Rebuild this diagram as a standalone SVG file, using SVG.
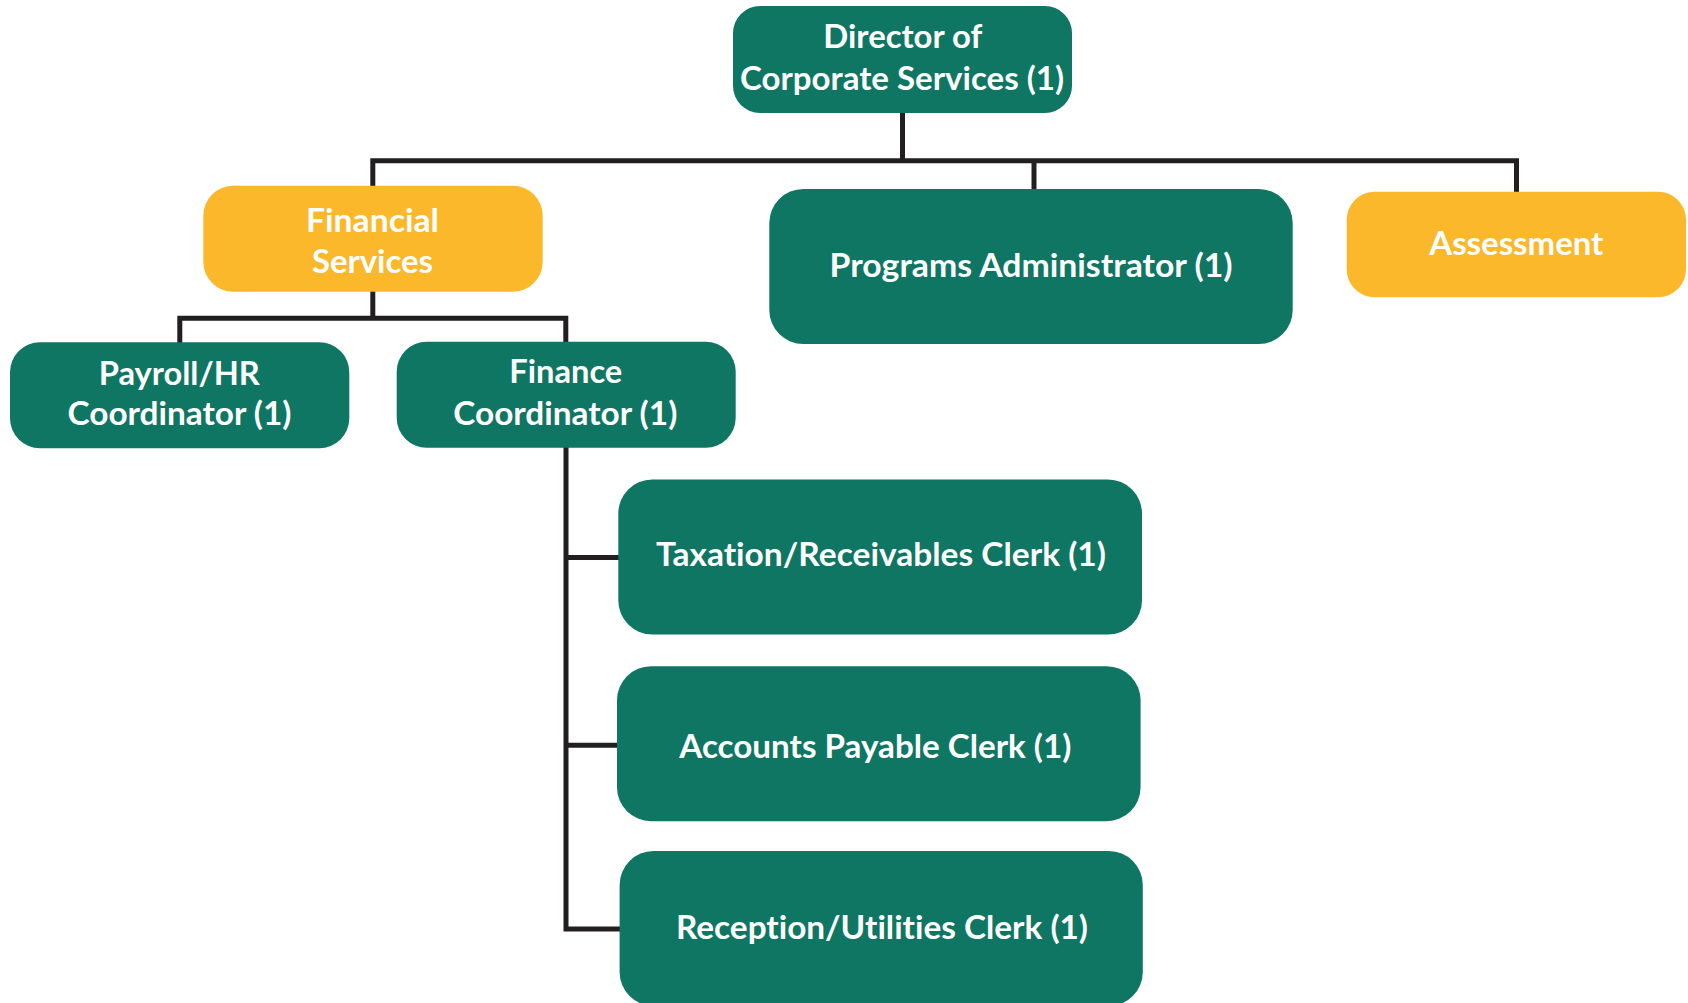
<svg xmlns="http://www.w3.org/2000/svg" width="1688" height="1003" viewBox="0 0 1688 1003">
  <style>
    .green { fill: #0e7663; }
    .yellow { fill: #fbb82b; }
    .label { fill: #ffffff; font-family: Lato, "Open Sans", "Liberation Sans", sans-serif; font-weight: 700; font-size: 33px; text-anchor: middle; font-variant-ligatures: none; font-feature-settings: "liga" 0; }
    .conn { fill: none; stroke: #231f20; stroke-width: 5; stroke-linejoin: miter; stroke-linecap: butt; }
  </style>
  <rect width="1688" height="1003" fill="#ffffff"/>
  <g id="connectors">
    <path class="conn" d="M902.5,112 V160.8"/>
    <path class="conn" d="M372.8,187 V160.8 H1516.5 V193"/>
    <path class="conn" d="M1034,160.8 V190"/>
    <path class="conn" d="M372.8,291 V318.2"/>
    <path class="conn" d="M179.8,343 V318.2 H565.8 V343"/>
    <path class="conn" d="M566,447 V929 H621"/>
    <path class="conn" d="M566,557.6 H619"/>
    <path class="conn" d="M566,745.3 H618"/>
  </g>
  <g id="director">
    <rect class="green" x="733" y="6" width="339" height="107" rx="27"/>
    <text class="label" x="902.8" y="48.3" textLength="159" lengthAdjust="spacingAndGlyphs">Director of</text>
    <text class="label" x="902" y="90" textLength="324" lengthAdjust="spacingAndGlyphs">Corporate Services (1)</text>
  </g>
  <g id="financial-services">
    <rect class="yellow" x="203.3" y="185.7" width="339.4" height="106" rx="30"/>
    <text class="label" x="372.5" y="231.7" textLength="133" lengthAdjust="spacingAndGlyphs">Financial</text>
    <text class="label" x="372.5" y="272.7" textLength="121" lengthAdjust="spacingAndGlyphs">Services</text>
  </g>
  <g id="programs-administrator">
    <rect class="green" x="769.3" y="189" width="523.4" height="155" rx="34"/>
    <text class="label" x="1031.1" y="276.7" textLength="403" lengthAdjust="spacingAndGlyphs">Programs Administrator (1)</text>
  </g>
  <g id="assessment">
    <rect class="yellow" x="1346.7" y="191.7" width="339.3" height="105.6" rx="28"/>
    <text class="label" x="1516.3" y="255" textLength="174" lengthAdjust="spacingAndGlyphs">Assessment</text>
  </g>
  <g id="payroll-hr">
    <rect class="green" x="10" y="342.3" width="339.3" height="106" rx="30"/>
    <text class="label" x="179.3" y="385" textLength="161" lengthAdjust="spacingAndGlyphs">Payroll/HR</text>
    <text class="label" x="179.5" y="425" textLength="224" lengthAdjust="spacingAndGlyphs">Coordinator (1)</text>
  </g>
  <g id="finance-coordinator">
    <rect class="green" x="396.7" y="341.7" width="339" height="106" rx="30"/>
    <text class="label" x="565.8" y="382.7" textLength="113" lengthAdjust="spacingAndGlyphs">Finance</text>
    <text class="label" x="565.3" y="425" textLength="224" lengthAdjust="spacingAndGlyphs">Coordinator (1)</text>
  </g>
  <g id="taxation-clerk">
    <rect class="green" x="618.3" y="479.5" width="523.7" height="155" rx="34"/>
    <text class="label" x="881" y="566.4" textLength="450" lengthAdjust="spacingAndGlyphs">Taxation/Receivables Clerk (1)</text>
  </g>
  <g id="accounts-payable-clerk">
    <rect class="green" x="617" y="666.2" width="523.6" height="155" rx="34"/>
    <text class="label" x="875.3" y="757.7" textLength="392" lengthAdjust="spacingAndGlyphs">Accounts Payable Clerk (1)</text>
  </g>
  <g id="reception-clerk">
    <rect class="green" x="619.6" y="851" width="523.2" height="155" rx="34"/>
    <text class="label" x="882" y="938.5" textLength="412" lengthAdjust="spacingAndGlyphs">Reception/Utilities Clerk (1)</text>
  </g>
</svg>
